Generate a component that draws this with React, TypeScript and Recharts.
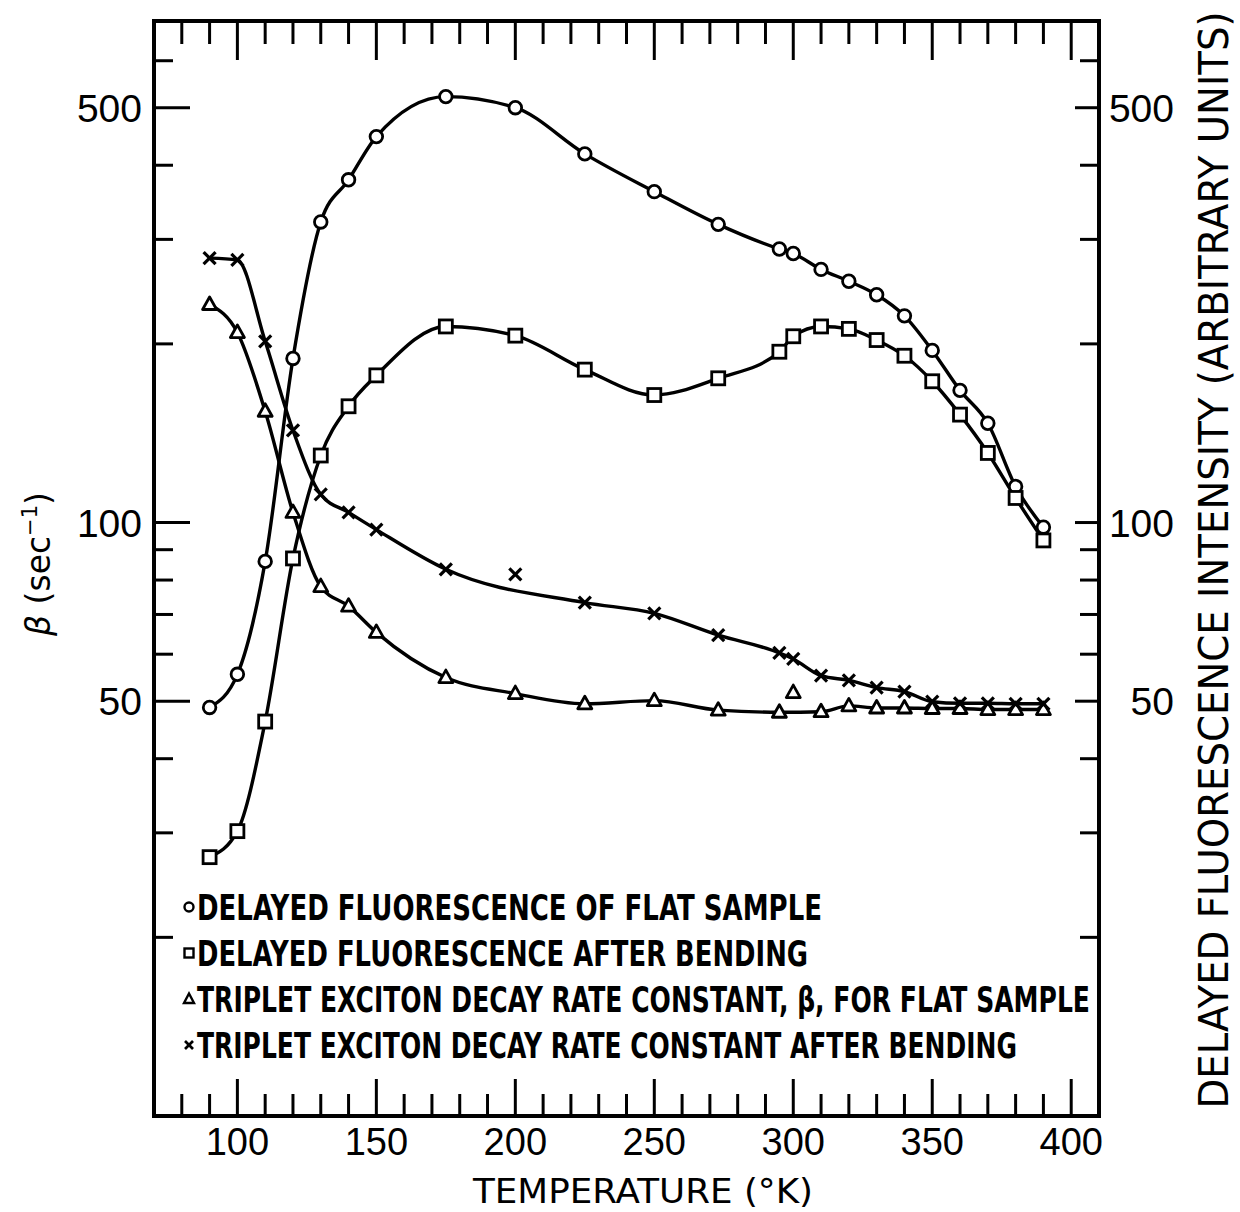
import React from 'react';
import { ComposedChart, Line, Scatter, XAxis, YAxis, ReferenceArea } from 'recharts';

// temperatures (°K) at which every series was measured
const temps = [90, 100, 110, 120, 130, 140, 150, 175, 200, 225, 250, 273, 295, 300, 310, 320, 330, 340, 350, 360, 370, 380, 390];

// delayed fluorescence, arbitrary units (right axis)
const flatFluor = [48.8, 55.5, 86, 189, 321, 378, 447, 522, 500, 418, 361, 318, 289, 284, 267, 255, 242, 223, 195, 167, 147, 115, 98.2];
const bentFluor = [27.3, 30.2, 46.2, 87, 129.7, 157, 177, 214, 206.5, 181, 164, 175, 194, 206, 214, 212, 203, 191, 173, 152, 131, 110, 93.3];

// triplet exciton decay rate constant beta, sec^-1 (left axis)
const flatBeta = [233, 209, 154, 104, 78, 72.3, 65.3, 54.8, 51.5, 49.5, 50.1, 48.3, 47.9, 51.7, 48.0, 49.1, 48.7, 48.7, 48.6, 48.6, 48.4, 48.4, 48.4];
const bentBeta = [279, 277, 202, 143, 111.5, 104, 97.3, 83.4, 81.8, 73.3, 70.3, 64.6, 60.3, 58.9, 55.2, 54.2, 52.7, 51.9, 49.9, 49.6, 49.6, 49.5, 49.5];
// points that sit off the hand-drawn curves (marker only)
const flatBetaOffCurve = [300];
const bentBetaOffCurve = [200];

const xTicks = [80, 90, 100, 110, 120, 130, 140, 150, 160, 170, 180, 190, 200, 210, 220, 230, 240, 250, 260, 270, 280, 290, 300, 310, 320, 330, 340, 350, 360, 370, 380, 390, 400];
const xLabels = [100, 150, 200, 250, 300, 350, 400];
const yTicks = [20, 30, 40, 50, 60, 70, 80, 90, 100, 200, 300, 400, 500, 600];
const yLabels = [50, 100, 500];

const legendItems = [
  { key: 'circle', text: 'DELAYED FLUORESCENCE OF FLAT SAMPLE', width: 625 },
  { key: 'square', text: 'DELAYED FLUORESCENCE AFTER BENDING', width: 611 },
  { key: 'triangle', text: 'TRIPLET EXCITON DECAY RATE CONSTANT, β, FOR FLAT SAMPLE', width: 893 },
  { key: 'cross', text: 'TRIPLET EXCITON DECAY RATE CONSTANT AFTER BENDING', width: 820 },
];

const W = 1240;
const H = 1212;
const MARGIN = { top: 21, right: 141, bottom: 95, left: 153 };
const PLOT_LEFT = 154;
const PLOT_RIGHT = W - MARGIN.right;
const PLOT_TOP = MARGIN.top;
const PLOT_BOTTOM = H - 96;

const TICK_FONT = "'Liberation Sans', Arial, sans-serif";
const TITLE_FONT = "'DejaVu Sans', sans-serif";

const toPoints = (vals: number[]) => temps.map((t, i) => ({ t, v: vals[i] }));

const OpenCircle = (p: any) => <circle cx={p.cx} cy={p.cy} r={6.3} fill="#fff" stroke="#000" strokeWidth={2.8} />;
const OpenSquare = (p: any) => (
  <rect x={p.cx - 6.5} y={p.cy - 6.5} width={13} height={13} fill="#fff" stroke="#000" strokeWidth={2.8} />
);
const OpenTriangle = (p: any) => (
  <polygon
    points={`${p.cx},${p.cy - 7.5} ${p.cx + 7},${p.cy + 5} ${p.cx - 7},${p.cy + 5}`}
    fill="#fff"
    stroke="#000"
    strokeWidth={2.8}
    strokeLinejoin="round"
  />
);
const XMark = (p: any) => (
  <g stroke="#000" strokeWidth={3.2}>
    <line x1={p.cx - 6} y1={p.cy - 6} x2={p.cx + 6} y2={p.cy + 6} />
    <line x1={p.cx - 6} y1={p.cy + 6} x2={p.cx + 6} y2={p.cy - 6} />
  </g>
);

const XTick = (props: any) => {
  const { x, payload } = props;
  const v = payload.value;
  const major = v % 50 === 0;
  return (
    <g>
      <line x1={x} x2={x} y1={PLOT_BOTTOM} y2={PLOT_BOTTOM - (major ? 37 : 22)} stroke="#000" strokeWidth={3} />
      <line x1={x} x2={x} y1={PLOT_TOP} y2={PLOT_TOP + (major ? 39 : 23)} stroke="#000" strokeWidth={3} />
      {xLabels.includes(v) && (
        <text x={x} y={PLOT_BOTTOM + 39} textAnchor="middle" fontFamily={TICK_FONT} fontSize={38} fill="#000">
          {v}
        </text>
      )}
    </g>
  );
};

const YTick = (props: any) => {
  const { y, payload } = props;
  const v = payload.value;
  const major = yLabels.includes(v);
  return (
    <g>
      <line x1={PLOT_LEFT} x2={PLOT_LEFT + (major ? 36 : 19)} y1={y} y2={y} stroke="#000" strokeWidth={3} />
      <line x1={PLOT_RIGHT} x2={PLOT_RIGHT - (major ? 24 : 19)} y1={y} y2={y} stroke="#000" strokeWidth={3} />
      {major && (
        <>
          <text x={PLOT_LEFT - 12} y={y} dy="0.36em" textAnchor="end" fontFamily={TICK_FONT} fontSize={39} fill="#000">
            {v}
          </text>
          <text x={1174} y={y} dy="0.36em" textAnchor="end" fontFamily={TICK_FONT} fontSize={39} fill="#000">
            {v}
          </text>
        </>
      )}
    </g>
  );
};

const LegendMark = ({ kind, cx, cy }: { kind: string; cx: number; cy: number }) => {
  if (kind === 'circle') return <circle cx={cx} cy={cy} r={4.5} fill="#fff" stroke="#000" strokeWidth={2.4} />;
  if (kind === 'square')
    return <rect x={cx - 4.5} y={cy - 4.5} width={9} height={9} fill="#fff" stroke="#000" strokeWidth={2.4} />;
  if (kind === 'triangle')
    return (
      <polygon
        points={`${cx},${cy - 5.5} ${cx + 5},${cy + 4} ${cx - 5},${cy + 4}`}
        fill="#fff"
        stroke="#000"
        strokeWidth={2.4}
      />
    );
  return (
    <g stroke="#000" strokeWidth={2.6}>
      <line x1={cx - 4} y1={cy - 4} x2={cx + 4} y2={cy + 4} />
      <line x1={cx - 4} y1={cy + 4} x2={cx + 4} y2={cy - 4} />
    </g>
  );
};

const App = () => {
  const circles = toPoints(flatFluor);
  const squares = toPoints(bentFluor);
  const triangles = toPoints(flatBeta);
  const crosses = toPoints(bentBeta);
  const triangleCurve = triangles.filter((p) => !flatBetaOffCurve.includes(p.t));
  const crossCurve = crosses.filter((p) => !bentBetaOffCurve.includes(p.t));

  return (
    <div style={{ position: 'relative', width: W, height: H, background: '#fff' }}>
      <style>{'body { margin: 0; }'}</style>
      <ComposedChart width={W} height={H} margin={MARGIN}>
        <XAxis
          type="number"
          dataKey="t"
          domain={[70, 410]}
          ticks={xTicks}
          interval={0}
          allowDataOverflow
          height={1}
          tickSize={0}
          tickMargin={0}
          axisLine={false}
          tickLine={false}
          tick={XTick}
        />
        <YAxis
          type="number"
          dataKey="v"
          scale="log"
          domain={[10, 700]}
          ticks={yTicks}
          interval={0}
          allowDataOverflow
          width={1}
          tickSize={0}
          tickMargin={0}
          axisLine={false}
          tickLine={false}
          tick={YTick}
        />
        <ReferenceArea x1={70} x2={410} y1={10} y2={700} fill="none" fillOpacity={0} stroke="#000" strokeWidth={4} />

        <Line data={circles} dataKey="v" type="monotone" stroke="#000" strokeWidth={3.4} dot={false} isAnimationActive={false} />
        <Line data={squares} dataKey="v" type="monotone" stroke="#000" strokeWidth={3.4} dot={false} isAnimationActive={false} />
        <Line data={triangleCurve} dataKey="v" type="monotone" stroke="#000" strokeWidth={3.4} dot={false} isAnimationActive={false} />
        <Line data={crossCurve} dataKey="v" type="monotone" stroke="#000" strokeWidth={3.4} dot={false} isAnimationActive={false} />

        <Scatter data={circles} dataKey="v" shape={OpenCircle} isAnimationActive={false} />
        <Scatter data={squares} dataKey="v" shape={OpenSquare} isAnimationActive={false} />
        <Scatter data={triangles} dataKey="v" shape={OpenTriangle} isAnimationActive={false} />
        <Scatter data={crosses} dataKey="v" shape={XMark} isAnimationActive={false} />
      </ComposedChart>

      <svg width={W} height={H} style={{ position: 'absolute', left: 0, top: 0, pointerEvents: 'none' }}>
        {legendItems.map((item, i) => {
          const cy = 907 + i * 46;
          return (
            <g key={item.key}>
              <LegendMark kind={item.key} cx={189} cy={cy} />
              {/* narrow lettering: small bold font stretched upward */}
              <text
                transform={`translate(197 ${cy + 13}) scale(1 1.42)`}
                textLength={item.width}
                lengthAdjust="spacingAndGlyphs"
                fontFamily={TITLE_FONT}
                fontWeight="bold"
                fontSize={25}
                fill="#000"
              >
                {item.text}
              </text>
            </g>
          );
        })}

        <text
          x={643}
          y={1203}
          textAnchor="middle"
          textLength={340}
          lengthAdjust="spacingAndGlyphs"
          fontFamily={TITLE_FONT}
          fontSize={33}
          fill="#000"
        >
          TEMPERATURE (°K)
        </text>

        <text
          x={50}
          y={564}
          textAnchor="middle"
          transform="rotate(-90 50 564)"
          fontFamily={TITLE_FONT}
          fontSize={33}
          fill="#000"
        >
          <tspan fontStyle="italic">β</tspan> (sec
          <tspan dy={-13} fontSize={21}>
            −1
          </tspan>
          <tspan dy={13}>)</tspan>
        </text>

        <text
          transform="translate(1228 560) rotate(-90) scale(1 1.06)"
          textAnchor="middle"
          textLength={1097}
          lengthAdjust="spacingAndGlyphs"
          fontFamily={TITLE_FONT}
          fontSize={38}
          fill="#000"
        >
          DELAYED FLUORESCENCE INTENSITY (ARBITRARY UNITS)
        </text>
      </svg>
    </div>
  );
};

export default App;
